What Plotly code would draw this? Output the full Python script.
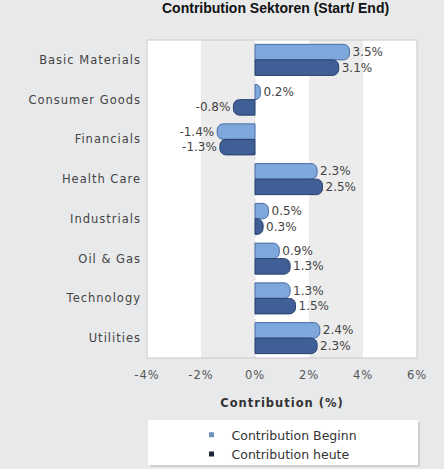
import plotly.graph_objects as go

categories = ["Basic Materials", "Consumer Goods", "Financials", "Health Care",
              "Industrials", "Oil & Gas", "Technology", "Utilities"]
beginn = [3.5, 0.2, -1.4, 2.3, 0.5, 0.9, 1.3, 2.4]
heute = [3.1, -0.8, -1.3, 2.5, 0.3, 1.3, 1.5, 2.3]
x_ticks = [-4, -2, 0, 2, 4, 6]
series_names = ["Contribution Beginn", "Contribution heute"]

W, H = 444, 469
L, R, T, B = 147, 27, 40, 111
ph = H - T - B

def py(pix):
    return (H - B - pix) / ph

def px(pix):
    return (pix - L) / (W - L - R)

font = "DejaVu Sans"
fs = 11.5
fig = go.Figure()
for vals, name, col, lcol, legcol in [
    (beginn, series_names[0], "#7ea7dc", "#4a6ea6", "#7090c0"),
    (heute, series_names[1], "#3f5f96", "#273f6b", "#1c2638"),
]:
    fig.add_trace(go.Bar(
        y=categories, x=vals, orientation="h", name=name, showlegend=False,
        marker=dict(color=col, line=dict(color=lcol, width=1)),
        text=[f"{v:.1f}%" for v in vals], textposition="outside",
        textfont=dict(family=font, size=12, color="#444"), cliponaxis=False,
    ))
    fig.add_trace(go.Scatter(
        x=[None], y=[None], mode="markers", name=name,
        marker=dict(symbol="square", size=5, color=legcol),
    ))

shapes = []
for a in (-2, 2):
    shapes.append(dict(type="rect", xref="x", yref="paper", x0=a, x1=a + 2, y0=0, y1=1,
                       fillcolor="#ececec", line=dict(width=0), layer="below"))
shapes.append(dict(type="line", xref="x", yref="paper", x0=0, x1=0, y0=0, y1=1,
                   line=dict(color="#d8d8d8", width=1, dash="dot"), layer="below"))
shapes.append(dict(type="rect", xref="paper", yref="paper", x0=0, x1=1, y0=0, y1=1,
                   line=dict(color="#c8c8c8", width=1), layer="above"))
# legend box
shapes.append(dict(type="rect", xref="paper", yref="paper", x0=px(150), x1=px(420),
                   y0=py(467), y1=py(422), fillcolor="#cfd0d2", line=dict(width=0)))
shapes.append(dict(type="rect", xref="paper", yref="paper", x0=px(148), x1=px(418),
                   y0=py(465), y1=py(420), fillcolor="white", line=dict(width=0)))

fig.update_layout(
    width=W, height=H,
    margin=dict(l=L, r=R, t=T, b=B, autoexpand=False),
    paper_bgcolor="#e8e9eb", plot_bgcolor="white",
    barmode="group", bargap=0.22, bargroupgap=0.0, barcornerradius=6,
    font=dict(family=font, size=fs, color="#444"),
    shapes=shapes,
    xaxis=dict(range=[-4, 6], tickvals=x_ticks, ticktext=[f"{v}%" for v in x_ticks],
               showgrid=False, zeroline=False, showline=False, ticks="", automargin=False,
               tickfont=dict(family=font, size=fs, color="#555"), ticklabelstandoff=8,
               title=dict(text="<b>Contribution (%)</b>", font=dict(family=font, size=fs, color="#333"),
                          standoff=18)),
    yaxis=dict(autorange="reversed", showgrid=False, zeroline=False, showline=False, ticks="",
               automargin=False,
               tickfont=dict(family=font, size=fs, color="#444"), ticklabelstandoff=5),
    legend=dict(x=px(277), xanchor="center", y=py(420), yanchor="top",
                bgcolor="rgba(0,0,0,0)", font=dict(family=font, size=12.5, color="#333"),
                itemwidth=30, tracegroupgap=0, itemsizing="trace"),
    annotations=[dict(text="<b>Contribution Sektoren (Start/ End)</b>", xref="paper", yref="paper",
                      x=px(275), y=py(18), xanchor="center", yanchor="bottom", showarrow=False,
                      font=dict(family="Liberation Sans", size=14, color="#111"))],
)
css = ".xtick text,.ytick text,.xtitle{letter-spacing:1px}"
fig.write_html(
    "out.html",
    config={"displayModeBar": False},
    post_script=("document.body.style.margin='0';document.body.style.background='#e8e9eb';"
                 "var s=document.createElement('style');s.textContent='" + css + "';"
                 "document.head.appendChild(s);"),
)
